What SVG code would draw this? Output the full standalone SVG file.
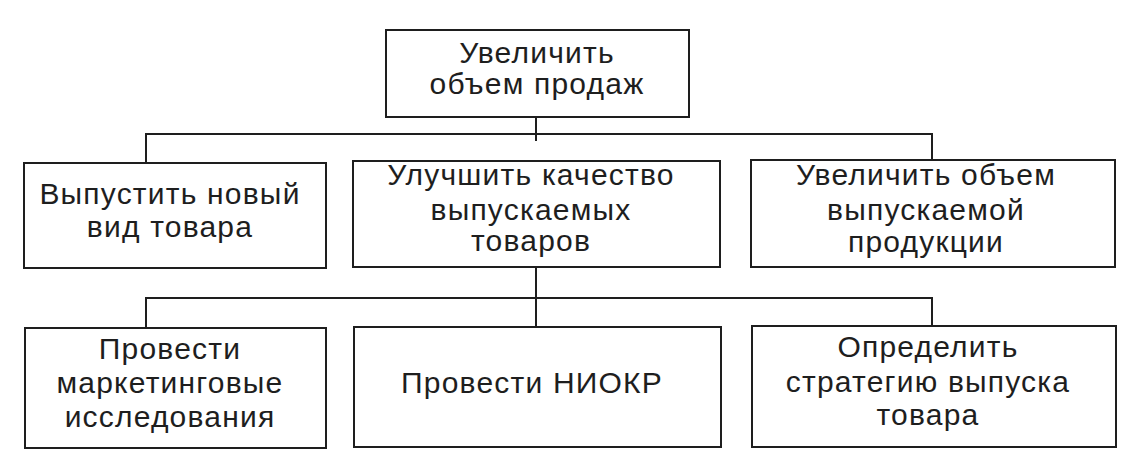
<svg xmlns="http://www.w3.org/2000/svg" width="1148" height="470" viewBox="0 0 1148 470">
<style>
.box{fill:#fff;stroke:#1e1e1e;stroke-width:2}
.conn{fill:none;stroke:#1e1e1e;stroke-width:2}
text{font-family:"Liberation Sans",Arial,sans-serif;font-size:30px;fill:#1e1e1e;text-anchor:middle;letter-spacing:1.2px}
</style>
<rect width="1148" height="470" fill="#fff"/>
<g id="connectors">
<path class="conn" d="M536 117V141M146 163V134H932V160"/>
<path class="conn" d="M536 267V327M146 328V298H932V326"/>
</g>
<g id="n-top">
<rect class="box" x="386" y="30" width="303" height="87"/>
<text x="537" y="63">Увеличить</text>
<text x="537" y="94">объем продаж</text>
</g>
<g id="n-new">
<rect class="box" x="24" y="163" width="302" height="105"/>
<text x="170" y="204">Выпустить новый</text>
<text x="170" y="237">вид товара</text>
</g>
<g id="n-quality">
<rect class="box" x="353" y="161" width="367" height="106"/>
<text x="531" y="185">Улучшить качество</text>
<text x="531" y="220">выпускаемых</text>
<text x="531" y="251">товаров</text>
</g>
<g id="n-volume">
<rect class="box" x="751" y="160" width="364" height="107"/>
<text x="926" y="185">Увеличить объем</text>
<text x="926" y="220">выпускаемой</text>
<text x="926" y="252">продукции</text>
</g>
<g id="n-marketing">
<rect class="box" x="25" y="328" width="301" height="120"/>
<text x="170" y="359">Провести</text>
<text x="170" y="393">маркетинговые</text>
<text x="170" y="427">исследования</text>
</g>
<g id="n-niokr">
<rect class="box" x="354" y="327" width="367" height="120"/>
<text x="532" y="393">Провести НИОКР</text>
</g>
<g id="n-strategy">
<rect class="box" x="752" y="326" width="364" height="121"/>
<text x="928" y="357">Определить</text>
<text x="928" y="392">стратегию выпуска</text>
<text x="928" y="425">товара</text>
</g>
</svg>
